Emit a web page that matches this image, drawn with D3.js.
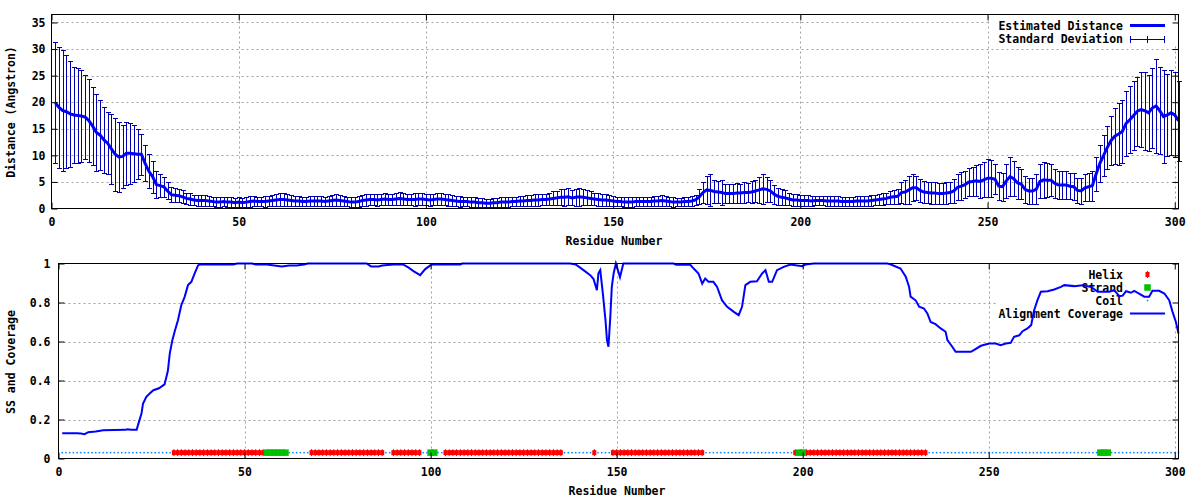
<!DOCTYPE html>
<html><head><meta charset="utf-8">
<script src="https://cdn.jsdelivr.net/npm/d3@7"></script>
<style>
body{margin:0;background:#fff;}
svg{display:block;}
text{font-family:"DejaVu Sans Mono",monospace;font-weight:bold;font-size:11.5px;fill:#000;}
</style>
</head><body>
<svg id="chart" width="1200" height="500"></svg>
<script>
// ---- data: estimated distance per residue (1..301)
const distance = [
19.9,19.0,18.4,18.2,17.8,17.6,17.5,17.4,17.2,16.5,
15.5,14.3,13.8,12.9,12.3,11.2,10.2,9.7,9.8,10.4,
10.4,10.3,10.2,10.2,8.5,7.0,6.0,4.5,4.3,4.1,
3.3,2.6,2.5,2.4,2.2,1.9,1.8,1.6,1.5,1.5,
1.5,1.4,1.3,1.2,1.2,1.3,1.2,1.2,1.1,1.2,
1.1,1.2,1.3,1.4,1.3,1.3,1.3,1.4,1.5,1.6,
1.7,1.7,1.6,1.5,1.4,1.4,1.3,1.3,1.4,1.4,
1.4,1.4,1.3,1.4,1.5,1.6,1.5,1.4,1.3,1.2,
1.2,1.3,1.5,1.6,1.7,1.7,1.6,1.7,1.8,1.7,
1.7,1.8,1.9,1.8,1.7,1.7,1.7,1.8,1.8,1.7,
1.6,1.7,1.8,1.8,1.7,1.6,1.5,1.4,1.3,1.3,
1.3,1.2,1.2,1.1,1.1,1.0,1.0,1.1,1.1,1.2,
1.2,1.2,1.3,1.3,1.4,1.4,1.5,1.5,1.6,1.6,
1.7,1.7,1.8,1.9,2.0,2.1,2.1,2.2,2.0,2.1,
2.2,2.1,2.0,1.9,1.8,1.7,1.6,1.6,1.5,1.4,
1.3,1.3,1.2,1.2,1.2,1.3,1.3,1.3,1.3,1.3,
1.4,1.4,1.5,1.4,1.3,1.2,1.2,1.2,1.3,1.3,
1.4,1.6,2.2,3.0,3.5,3.4,3.2,3.1,3.0,2.8,
2.8,2.8,2.9,2.9,3.0,3.0,3.1,3.3,3.5,3.7,
3.6,3.3,2.7,2.3,2.1,2.0,1.8,1.6,1.6,1.5,
1.5,1.5,1.4,1.5,1.5,1.5,1.4,1.4,1.4,1.4,
1.3,1.3,1.3,1.3,1.4,1.4,1.4,1.4,1.5,1.6,
1.7,1.8,1.9,2.1,2.2,2.3,3.0,3.1,3.5,3.9,
3.9,3.4,3.1,3.0,2.9,2.9,2.8,2.8,2.9,3.0,
3.3,4.0,4.2,4.5,5.0,5.1,5.2,5.1,5.4,5.7,
5.7,5.5,4.2,4.1,5.2,6.0,5.6,4.8,4.6,3.6,
3.3,3.3,3.6,5.1,5.4,5.3,5.3,4.7,4.4,4.4,
4.4,4.2,4.1,3.4,3.3,3.9,4.1,4.3,6.5,8.5,
10.0,11.5,12.8,13.6,14.0,14.5,16.0,16.7,17.5,18.3,
18.6,18.4,18.0,18.9,19.3,18.4,17.3,17.6,18.0,17.6,16.5
];
// ---- standard deviation per residue (1..301)
const stdDev = [
11.4,11.4,11.4,10.6,10.0,9.1,8.9,8.6,7.9,7.8,
7.4,7.2,6.6,6.2,5.8,6.5,6.9,6.6,6.0,5.9,
5.7,5.4,4.7,3.9,3.4,3.2,3.0,2.6,2.2,1.9,
1.6,1.4,1.3,1.2,1.2,1.1,1.1,1.0,1.0,1.0,
1.0,0.9,0.9,0.9,0.9,0.9,0.9,0.9,0.9,0.9,
0.9,0.9,1.0,1.0,0.9,0.9,1.0,1.0,1.1,1.1,
1.2,1.2,1.1,1.0,1.0,0.9,0.9,0.9,1.0,1.0,
1.0,1.0,0.9,1.0,1.0,1.1,1.0,1.0,0.9,0.9,
0.9,1.0,1.0,1.1,1.1,1.1,1.1,1.1,1.2,1.1,
1.1,1.2,1.2,1.2,1.1,1.1,1.2,1.2,1.2,1.1,
1.1,1.1,1.2,1.2,1.1,1.1,1.0,1.0,1.0,0.9,
0.9,0.9,0.9,0.8,0.8,0.8,0.8,0.8,0.8,0.9,
0.9,0.9,0.9,0.9,1.0,1.0,1.0,1.0,1.1,1.1,
1.1,1.1,1.2,1.3,1.3,1.5,1.6,1.6,1.4,1.6,
1.7,1.5,1.4,1.3,1.2,1.2,1.1,1.1,1.0,1.0,
0.9,0.9,0.9,0.9,0.9,0.9,0.9,0.9,0.9,0.9,
0.9,0.9,1.0,0.9,0.9,0.9,0.8,0.8,0.9,0.9,
0.9,1.0,1.4,2.0,2.6,3.0,2.2,2.0,2.3,1.8,
1.8,1.8,1.9,1.8,1.9,1.8,2.0,2.1,2.4,2.8,
2.4,2.0,1.8,1.6,1.5,1.4,1.2,1.1,1.1,1.0,
1.0,1.0,0.9,0.9,0.9,0.9,0.9,0.9,0.9,0.9,
0.9,0.9,0.9,0.9,0.9,0.9,0.9,0.9,1.0,1.0,
1.0,1.1,1.1,1.2,1.3,1.4,2.0,2.3,2.7,2.5,
2.3,2.1,2.0,2.0,2.0,2.0,2.0,2.0,2.0,2.0,
2.2,2.4,2.6,2.6,2.7,2.8,2.9,3.2,3.3,3.6,
3.5,2.8,2.6,2.6,3.2,3.6,3.3,3.0,2.8,2.5,
2.5,2.5,2.8,3.2,3.4,3.2,3.0,2.8,2.7,2.6,
2.6,2.5,2.5,2.4,2.4,2.5,2.6,2.8,3.2,3.5,
3.8,4.1,4.6,5.3,5.8,6.0,6.2,6.3,6.4,6.5,
7.0,7.3,7.1,7.5,8.8,8.2,8.7,7.7,8.0,8.0,7.5
];
// ---- alignment coverage (residue, value)
const covResidue = [1,5,6,7,8,10,12,18,18.5,19.5,21,21.5,22.3,22.7,23.6,24.5,25.5,27,28.5,29.4,29.9,30.6,31.2,32.1,33,33.9,34.8,35.7,36.6,37.5,38,47,48,52,53,56,58,60,62,64,66,67,82.8,84,86,87,90,92.6,94,95.5,97.2,98.5,99.9,100.5,108,108.5,137.5,139,141.1,142.9,143.8,144.7,145.1,145.6,146.3,147,147.4,147.8,148.3,148.7,149.2,149.8,150.9,151.8,165.3,166,169.8,170.7,172,173,173.8,174.7,176,177,178.3,179.7,181.5,182.8,183.7,184.6,185.9,187.7,189.1,190,190.9,191.8,193.1,194.9,196.7,199.9,200.8,203,222.8,223.7,226.3,227.7,228.6,229,230.4,231.3,232.6,233.5,234.4,235.7,237.1,238.4,238.9,240.2,241.1,245.2,246,247.9,250.1,251.9,253.2,254.6,255.9,256.8,258.2,259.1,260.4,261.4,262.2,263.1,264,265.8,267.6,269.4,270.3,273,275.2,277.5,279.3,282.4,283.7,285.1,286,286.9,288.2,289.1,290.4,291.8,293.1,294,295.8,297.2,298.5,299.4,300.3,301];
const covValue = [0.13,0.13,0.128,0.125,0.135,0.138,0.145,0.147,0.15,0.147,0.147,0.18,0.23,0.28,0.316,0.333,0.35,0.36,0.38,0.45,0.538,0.607,0.65,0.709,0.786,0.829,0.889,0.906,0.949,0.99,0.995,0.995,1.0,1.0,0.995,0.995,0.99,0.985,0.99,0.99,0.995,1.0,1.0,0.985,0.985,0.99,0.995,0.995,0.98,0.96,0.94,0.97,0.99,0.995,0.995,1.0,1.0,0.995,0.966,0.94,0.92,0.863,0.95,0.966,0.846,0.71,0.607,0.573,0.726,0.88,0.95,1.0,0.93,1.0,1.0,0.993,0.993,0.974,0.949,0.897,0.923,0.906,0.906,0.88,0.812,0.778,0.752,0.735,0.778,0.889,0.906,0.909,0.949,0.966,0.906,0.906,0.966,0.983,0.995,0.986,0.995,1.0,1.0,0.995,0.974,0.932,0.88,0.83,0.81,0.778,0.769,0.744,0.7,0.689,0.667,0.65,0.607,0.573,0.547,0.547,0.556,0.578,0.59,0.59,0.581,0.59,0.593,0.624,0.632,0.653,0.667,0.684,0.76,0.812,0.855,0.858,0.867,0.88,0.889,0.884,0.889,0.88,0.855,0.855,0.863,0.832,0.835,0.858,0.85,0.86,0.846,0.83,0.83,0.86,0.86,0.846,0.812,0.752,0.7,0.641];
// ---- secondary structure (residue ranges)
const helixRanges = [[31,55],[68,87],[90,97],[104,135],[144,144],[149,173],[198,198],[201,233]];
const strandRanges = [[56,61],[100,101],[199,200],[280,282]];
const seqLength = 301;
const ssLevel = 0.03;
// ---- ticks
const xTicks = [0,50,100,150,200,250,300];
const distTicks = [0,5,10,15,20,25,30,35];
const covTicks = [0,0.2,0.4,0.6,0.8,1];
const covTickLabels = ["0","0.2","0.4","0.6","0.8","1"];

const svg = d3.select("#chart");
const GRID = "#a0a0a0";
const ERR = "#0000b0";

function frameAndGrid(g, x, y, xt, yt) {
  const [x0, x1] = x.range(), [y0, y1] = y.range();
  g.append("g").selectAll("line").data(xt.filter(v => x(v) > x0 + 1 && x(v) < x1 - 1)).join("line")
    .attr("x1", d => Math.round(x(d)) + 0.5).attr("x2", d => Math.round(x(d)) + 0.5)
    .attr("y1", y0).attr("y2", y1).attr("stroke", GRID).attr("stroke-dasharray", "2,3");
  g.append("g").selectAll("line").data(yt.filter(v => y(v) < y0 - 1 && y(v) > y1 + 1)).join("line")
    .attr("y1", d => Math.round(y(d)) + 0.5).attr("y2", d => Math.round(y(d)) + 0.5)
    .attr("x1", x0).attr("x2", x1).attr("stroke", GRID).attr("stroke-dasharray", "2,3");
}
function axes(g, x, y, xt, yt, ytFmt, ypad) {
  const [x0, x1] = x.range(), [y0, y1] = y.range();
  const ax = g.append("g").attr("transform", `translate(0,${y0})`)
    .call(d3.axisBottom(x).tickValues(xt).tickFormat(d3.format("d")).tickSizeInner(-6).tickSizeOuter(0).tickPadding(9));
  const axT = g.append("g").attr("transform", `translate(0,${y1})`)
    .call(d3.axisTop(x).tickValues(xt).tickFormat("").tickSizeInner(-6).tickSizeOuter(0));
  const ay = g.append("g").attr("transform", `translate(${x0},0)`)
    .call(d3.axisLeft(y).tickValues(yt).tickFormat(ytFmt).tickSizeInner(-6).tickSizeOuter(0).tickPadding(ypad));
  const ayR = g.append("g").attr("transform", `translate(${x1},0)`)
    .call(d3.axisRight(y).tickValues(yt).tickFormat("").tickSizeInner(-6).tickSizeOuter(0));
  [ax, axT, ay, ayR].forEach(a => {
    a.select(".domain").remove();
    a.selectAll("text").attr("font-family", null).attr("font-size", null).attr("fill", "#000");
    a.selectAll("line").attr("stroke", "#000");
  });
  g.append("rect").attr("x", x0).attr("y", y1).attr("width", x1 - x0).attr("height", y0 - y1)
    .attr("fill", "none").attr("stroke", "#000");
}

// ================= TOP PLOT =================
const xT = d3.scaleLinear().domain([0, seqLength]).range([51.5, 1178.5]);
const yT = d3.scaleLinear().domain([0, 36.5]).range([208.5, 14.5]);
const gT = svg.append("g");
frameAndGrid(gT, xT, yT, xTicks, distTicks);
gT.append("rect").attr("x", 989).attr("y", 15).attr("width", 189).attr("height", 30).attr("fill", "#fff");
const topData = distance.map((d, i) => ({r: i + 1, d, s: stdDev[i]}));
const eb = gT.append("g").attr("stroke", ERR).attr("stroke-width", 1);
topData.forEach(p => {
  const xx = Math.round(xT(p.r)) + 0.5;
  const lo = Math.round(yT(Math.max(0, p.d - p.s))) + 0.5;
  const hi = Math.round(yT(p.d + p.s)) + 0.5;
  eb.append("line").attr("x1", xx).attr("x2", xx).attr("y1", lo).attr("y2", hi);
  eb.append("line").attr("x1", xx - 2.5).attr("x2", xx + 2.5).attr("y1", lo).attr("y2", lo);
  eb.append("line").attr("x1", xx - 2.5).attr("x2", xx + 2.5).attr("y1", hi).attr("y2", hi);
});
gT.append("path").datum(topData)
  .attr("d", d3.line().x(p => xT(p.r)).y(p => yT(p.d)))
  .attr("fill", "none").attr("stroke", "#0000ff").attr("stroke-width", 3);
axes(gT, xT, yT, xTicks, distTicks, d3.format("d"), 6);
gT.append("text").attr("x", 1123).attr("y", 29.5).attr("text-anchor", "end").text("Estimated Distance");
gT.append("line").attr("x1", 1130).attr("x2", 1165).attr("y1", 25.5).attr("y2", 25.5).attr("stroke", "#0000ff").attr("stroke-width", 3);
gT.append("text").attr("x", 1123).attr("y", 43).attr("text-anchor", "end").text("Standard Deviation");
const ks = gT.append("g").attr("stroke", ERR);
ks.append("line").attr("x1", 1130).attr("x2", 1165).attr("y1", 39.5).attr("y2", 39.5);
[1130.5, 1147.5, 1164.5].forEach(xx => ks.append("line").attr("x1", xx).attr("x2", xx).attr("y1", 36).attr("y2", 43));
gT.append("text").attr("x", 614).attr("y", 245).attr("text-anchor", "middle").text("Residue Number");
gT.append("text").attr("transform", "translate(15,112) rotate(-90)").attr("text-anchor", "middle").text("Distance (Angstron)");

// ================= BOTTOM PLOT =================
const xB = d3.scaleLinear().domain([0, seqLength]).range([58.5, 1178.5]);
const yB = d3.scaleLinear().domain([0, 1]).range([458.5, 263.5]);
const gB = svg.append("g");
frameAndGrid(gB, xB, yB, xTicks, covTicks);
gB.append("rect").attr("x", 998).attr("y", 264).attr("width", 180).attr("height", 56).attr("fill", "#fff");
gB.append("text").attr("x", 1123).attr("y", 279).attr("text-anchor", "end").text("Helix");
gB.append("text").attr("x", 1123).attr("y", 292).attr("text-anchor", "end").text("Strand");
gB.append("text").attr("x", 1123).attr("y", 305).attr("text-anchor", "end").text("Coil");
gB.append("text").attr("x", 1123).attr("y", 318).attr("text-anchor", "end").text("Alignment Coverage");
function helixMark(g, xx, yy) {
  g.append("rect").attr("x", xx - 2).attr("y", yy - 2.5).attr("width", 4).attr("height", 5).attr("fill", "#ff0000");
  g.append("rect").attr("x", xx - 0.5).attr("y", yy - 3.5).attr("width", 1).attr("height", 7).attr("fill", "#ff0000");
}
function strandMark(g, xx, yy) {
  g.append("rect").attr("x", xx - 3.25).attr("y", yy - 3.25).attr("width", 6.5).attr("height", 6.5).attr("fill", "#00c000");
}
function coilMark(g, xx, yy) {
  g.append("rect").attr("x", xx - 0.75).attr("y", yy - 0.75).attr("width", 1.5).attr("height", 1.5).attr("fill", "#0080ff");
}
helixMark(gB, 1147.5, 274.5);
strandMark(gB, 1147.5, 287.5);
coilMark(gB, 1147.5, 300.5);
gB.append("line").attr("x1", 1130).attr("x2", 1165).attr("y1", 313.5).attr("y2", 313.5).attr("stroke", "#0000ff").attr("stroke-width", 2);
const inRanges = (r, rs) => rs.some(([a, b]) => r >= a && r <= b);
const residues = d3.range(1, seqLength + 1);
const ssY = yB(ssLevel);
const ssG = gB.append("g");
residues.filter(r => !inRanges(r, helixRanges) && !inRanges(r, strandRanges)).forEach(r => coilMark(ssG, xB(r), ssY));
residues.filter(r => inRanges(r, helixRanges)).forEach(r => helixMark(ssG, xB(r), ssY));
residues.filter(r => inRanges(r, strandRanges)).forEach(r => strandMark(ssG, xB(r), ssY));
gB.append("path").datum(covResidue.map((r, i) => [r, covValue[i]]))
  .attr("d", d3.line().x(p => xB(p[0])).y(p => yB(p[1])))
  .attr("fill", "none").attr("stroke", "#0000ff").attr("stroke-width", 2);
axes(gB, xB, yB, xTicks, covTicks, (d, i) => covTickLabels[i], 8);
gB.append("text").attr("x", 617).attr("y", 495).attr("text-anchor", "middle").text("Residue Number");
gB.append("text").attr("transform", "translate(15,362) rotate(-90)").attr("text-anchor", "middle").text("SS and Coverage");
</script>
</body></html>
